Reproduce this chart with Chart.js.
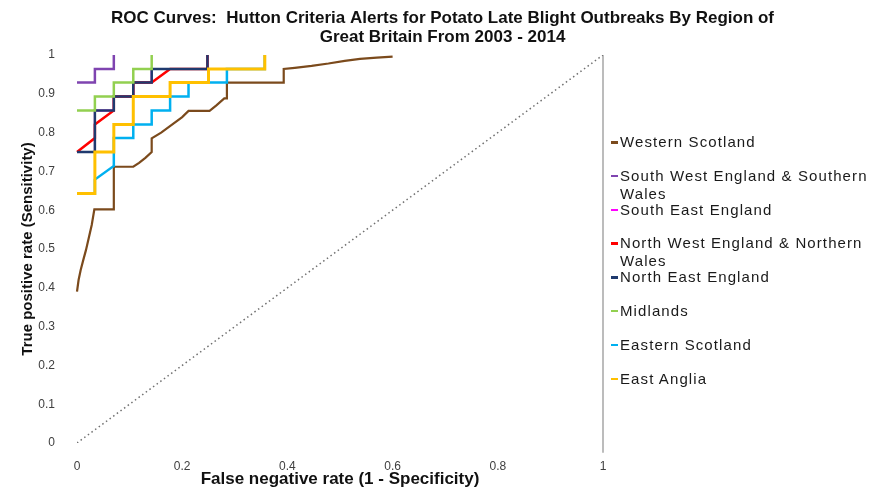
<!DOCTYPE html>
<html>
<head>
<meta charset="utf-8">
<script src="https://cdn.jsdelivr.net/npm/chart.js@4.4.0/dist/chart.umd.min.js"></script>
<style>
    html, body { margin: 0; padding: 0; background: #fff; }
    #wrap { position: relative; width: 871px; height: 488px; }
    #legend {
        position: absolute; left: 611px; top: 133px;
        font-family: "Liberation Sans", Arial, sans-serif;
        font-size: 15px; letter-spacing: 1.1px; color: #1a1a1a;
    }
    .item { position: relative; height: 33.8px; padding-left: 9px; line-height: 18px; white-space: nowrap; }
    .item .swatch { position: absolute; left: 0; top: 8px; width: 7px; height: 2.5px; }
</style>
</head>
<body>
<div id="wrap">
    <canvas id="roc-chart" width="871" height="488"></canvas>
    <div id="legend"></div>
</div>
<script>
// ---------------------------------------------------------------------------
// Data
// ---------------------------------------------------------------------------

const regionNames = [
    ["Western Scotland"],
    ["South West England & Southern", "Wales"],
    ["South East England"],
    ["North West England & Northern", "Wales"],
    ["North East England"],
    ["Midlands"],
    ["Eastern Scotland"],
    ["East Anglia"],
];

const westernScotlandX = [0, 0.003, 0.007, 0.012, 0.017, 0.023, 0.028, 0.033, 0.07, 0.07, 0.107, 0.118, 0.13, 0.142, 0.142, 0.16, 0.18, 0.2, 0.212, 0.252, 0.265, 0.28, 0.285, 0.285, 0.393, 0.393, 0.414, 0.446, 0.478, 0.509, 0.538, 0.57, 0.6];
const westernScotlandY = [0.39, 0.42, 0.446, 0.472, 0.497, 0.532, 0.562, 0.602, 0.602, 0.712, 0.712, 0.722, 0.735, 0.75, 0.785, 0.8, 0.82, 0.84, 0.856, 0.856, 0.87, 0.888, 0.888, 0.929, 0.929, 0.964, 0.967, 0.972, 0.978, 0.985, 0.99, 0.993, 0.996];

const southWestX = [0, 0.034, 0.034, 0.07, 0.07];
const southWestY = [0.929, 0.929, 0.964, 0.964, 1];

const southEastX = [0, 0.034, 0.034, 0.07, 0.07, 0.107, 0.107, 0.142, 0.142, 0.248, 0.248];
const southEastY = [0.75, 0.75, 0.857, 0.857, 0.893, 0.893, 0.929, 0.929, 0.964, 0.964, 1];

const northWestX = [0, 0.034, 0.034, 0.07, 0.07, 0.107, 0.107, 0.142, 0.177, 0.248, 0.248];
const northWestY = [0.75, 0.786, 0.821, 0.857, 0.893, 0.893, 0.929, 0.929, 0.964, 0.964, 1];

const northEastX = [0, 0.034, 0.034, 0.07, 0.07, 0.107, 0.107, 0.142, 0.142, 0.248, 0.248];
const northEastY = [0.75, 0.75, 0.857, 0.857, 0.893, 0.893, 0.929, 0.929, 0.964, 0.964, 1];

const midlandsX = [0, 0.034, 0.034, 0.07, 0.07, 0.107, 0.107, 0.142, 0.142];
const midlandsY = [0.857, 0.857, 0.893, 0.893, 0.929, 0.929, 0.964, 0.964, 1];

const easternScotlandX = [0, 0.034, 0.034, 0.07, 0.07, 0.107, 0.107, 0.142, 0.142, 0.177, 0.177, 0.212, 0.212, 0.285, 0.285, 0.357, 0.357];
const easternScotlandY = [0.643, 0.643, 0.679, 0.714, 0.786, 0.786, 0.821, 0.821, 0.857, 0.857, 0.893, 0.893, 0.929, 0.929, 0.964, 0.964, 1];

const eastAngliaX = [0, 0.034, 0.034, 0.07, 0.07, 0.107, 0.107, 0.177, 0.177, 0.25, 0.25, 0.357, 0.357];
const eastAngliaY = [0.643, 0.643, 0.75, 0.75, 0.821, 0.821, 0.893, 0.893, 0.929, 0.929, 0.964, 0.964, 1];

// chance line and the right-hand rule
const chanceX = [0, 1];
const chanceY = [0, 1];
const edgeX = [1, 1];
const edgeY = [-0.025, 1];

const xTicks = [0, 0.2, 0.4, 0.6, 0.8, 1];
const yTicks = [0, 0.1, 0.2, 0.3, 0.4, 0.5, 0.6, 0.7, 0.8, 0.9, 1];

// ---------------------------------------------------------------------------
// Styles
// ---------------------------------------------------------------------------

const FONT = '"Liberation Sans", Arial, sans-serif';

const regions = [
    { xs: westernScotlandX, ys: westernScotlandY, color: "#7b4a1c", width: 2.2 },
    { xs: southWestX, ys: southWestY, color: "#7f44b0", width: 2.5 },
    { xs: southEastX, ys: southEastY, color: "#ff00ff", width: 2 },
    { xs: northWestX, ys: northWestY, color: "#ff0000", width: 2.5 },
    { xs: northEastX, ys: northEastY, color: "#1f3a6e", width: 2.5 },
    { xs: midlandsX, ys: midlandsY, color: "#92d050", width: 2.5 },
    { xs: easternScotlandX, ys: easternScotlandY, color: "#00b0f0", width: 2.5 },
    { xs: eastAngliaX, ys: eastAngliaY, color: "#ffc000", width: 3 },
];

function toPoints(xs, ys) {
    return xs.map((x, i) => ({ x: x, y: ys[i] }));
}

const datasets = regions.map((r, i) => ({
    label: regionNames[i].join(" "),
    data: toPoints(r.xs, r.ys),
    borderColor: r.color,
    backgroundColor: r.color,
    borderWidth: r.width,
    showLine: true,
    pointRadius: 0,
    tension: 0,
    clip: false,
    order: regions.length - 1 - i, // later regions drawn on top
}));

datasets.push({
    label: "chance",
    data: toPoints(chanceX, chanceY),
    borderColor: "#707070",
    borderWidth: 1.5,
    borderDash: [1.5, 3],
    showLine: true,
    pointRadius: 0,
    order: 20,
});
datasets.push({
    label: "edge",
    data: toPoints(edgeX, edgeY),
    borderColor: "#a6a6a6",
    borderWidth: 1.5,
    showLine: true,
    pointRadius: 0,
    clip: false,
    order: 21,
});

// ---------------------------------------------------------------------------
// Chart
// ---------------------------------------------------------------------------

const ctx = document.getElementById("roc-chart").getContext("2d");
const rocChart = new Chart(ctx, {
    type: "scatter",
    data: { datasets: datasets },
    options: {
        responsive: false,
        animation: false,
        devicePixelRatio: 1,
        layout: { padding: { left: 14, right: 0, top: 0, bottom: 0 } },
        plugins: {
            legend: { display: false },
            tooltip: { enabled: false },
            title: {
                display: true,
                text: ["ROC Curves:  Hutton Criteria Alerts for Potato Late Blight Outbreaks By Region of",
                       "Great Britain From 2003 - 2014"],
                color: "#111",
                font: { family: FONT, size: 17, weight: "bold", lineHeight: 1.12 },
                padding: { top: 8.5, bottom: 8.4 },
            },
        },
        scales: {
            x: {
                type: "linear",
                min: 0,
                max: 1,
                afterBuildTicks: (s) => { s.ticks = xTicks.map((v) => ({ value: v })); },
                ticks: {
                    color: "#404040",
                    font: { family: FONT, size: 12 },
                    padding: 8,
                    maxRotation: 0,
                    callback: (v) => String(v),
                },
                grid: { display: false },
                border: { display: false },
                title: {
                    display: true,
                    text: "False negative rate (1 - Specificity)",
                    color: "#111",
                    font: { family: FONT, size: 17, weight: "bold", lineHeight: 1 },
                    padding: { top: 0, bottom: 0.5 },
                },
                afterFit: (s) => { s.height = 45; },
            },
            y: {
                min: 0,
                max: 1,
                afterBuildTicks: (s) => { s.ticks = yTicks.map((v) => ({ value: v })); },
                ticks: {
                    color: "#404040",
                    font: { family: FONT, size: 12 },
                    padding: 14,
                    callback: (v) => String(v),
                },
                grid: { display: false },
                border: { display: false },
                title: {
                    display: true,
                    text: "True positive rate (Sensitivity)",
                    color: "#111",
                    font: { family: FONT, size: 15, weight: "bold", lineHeight: 1.2 },
                    padding: { top: 5, bottom: 0 },
                },
                afterFit: (s) => { s.width = 63; },
            },
            // empty axis that reserves the room for the legend
            yRight: {
                position: "right",
                min: 0,
                max: 1,
                ticks: { display: false },
                grid: { display: false },
                border: { display: false },
                afterFit: (s) => { s.width = 268; },
            },
        },
    },
});

// ---------------------------------------------------------------------------
// Legend (HTML so the long names can wrap like the original)
// ---------------------------------------------------------------------------

const legendEl = document.getElementById("legend");
legendEl.innerHTML = regions
    .map((r, i) =>
        `<div class="item"><span class="swatch" style="background:${r.color}"></span>${regionNames[i].join("<br>")}</div>`
    )
    .join("");
</script>
</body>
</html>
